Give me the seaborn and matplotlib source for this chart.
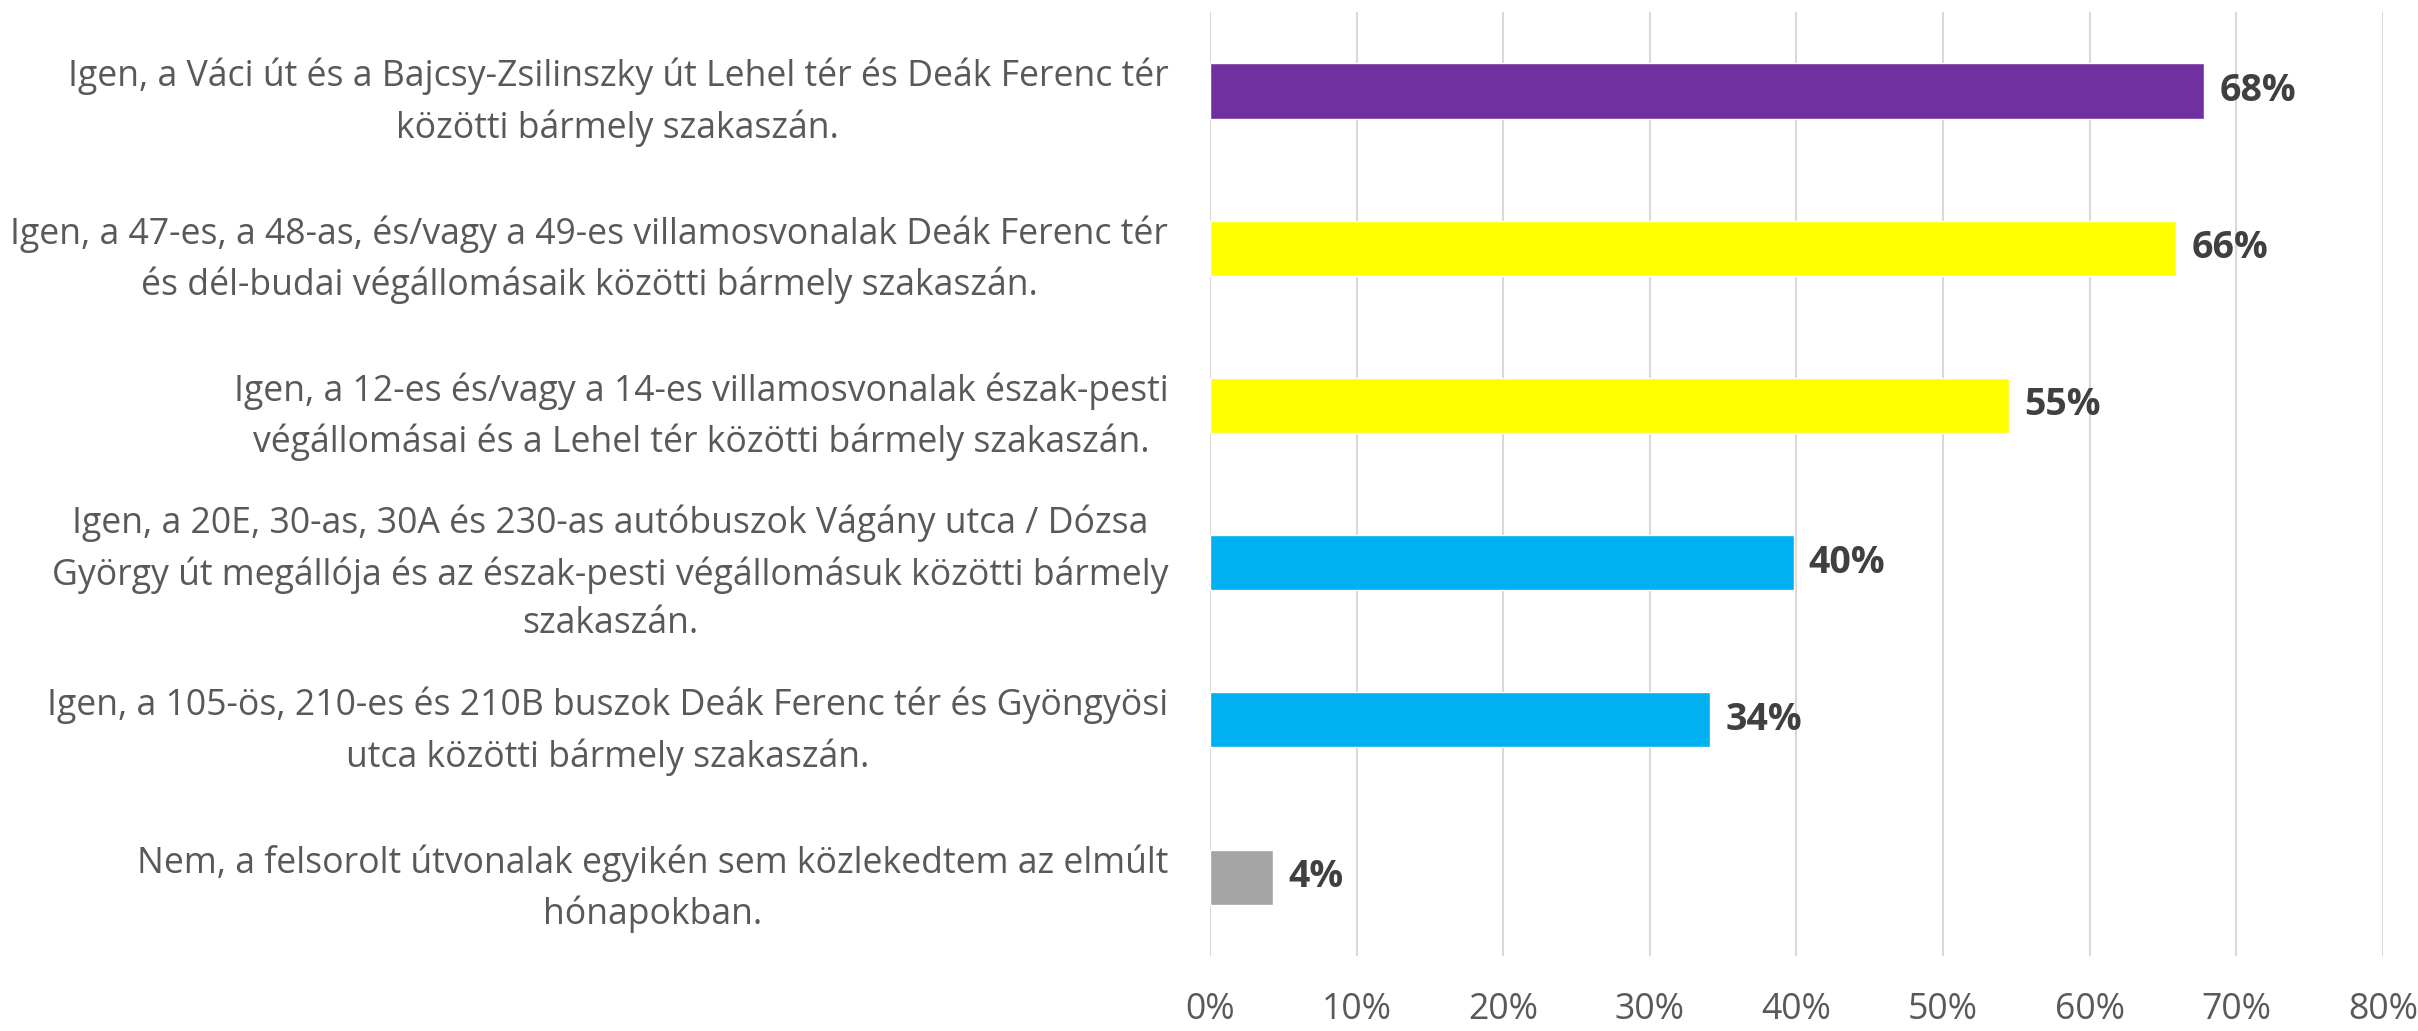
import matplotlib
matplotlib.use("Agg")
import matplotlib.pyplot as plt
import seaborn as sns
import pandas as pd

categories = [
    "Igen, a Váci út és a Bajcsy-Zsilinszky út Lehel tér és Deák Ferenc tér\nközötti bármely szakaszán.",
    "Igen, a 47-es, a 48-as, és/vagy a 49-es villamosvonalak Deák Ferenc tér\nés dél-budai végállomásaik közötti bármely szakaszán.",
    "Igen, a 12-es és/vagy a 14-es villamosvonalak észak-pesti\nvégállomásai és a Lehel tér közötti bármely szakaszán.",
    "Igen, a 20E, 30-as, 30A és 230-as autóbuszok Vágány utca / Dózsa\nGyörgy út megállója és az észak-pesti végállomásuk közötti bármely\nszakaszán.",
    "Igen, a 105-ös, 210-es és 210B buszok Deák Ferenc tér és Gyöngyösi\nutca közötti bármely szakaszán.",
    "Nem, a felsorolt útvonalak egyikén sem közlekedtem az elmúlt\nhónapokban.",
]
values = [67.8, 65.9, 54.5, 39.8, 34.1, 4.3]
value_labels = ["68%", "66%", "55%", "40%", "34%", "4%"]
colors = ["#7030A0", "#FFFF00", "#FFFF00", "#00B0F0", "#00B0F0", "#A5A5A5"]
x_ticks = [0, 10, 20, 30, 40, 50, 60, 70, 80]
x_tick_labels = ["0%", "10%", "20%", "30%", "40%", "50%", "60%", "70%", "80%"]

sns.set_theme(style="white")
plt.rcParams["font.family"] = ["Open Sans", "DejaVu Sans"]

df = pd.DataFrame({"cat": categories, "val": values})

fig = plt.figure(figsize=(24.18, 10.31), dpi=100)
ax = fig.add_axes([0.5004, 0.073, 0.4851, 0.915])

sns.barplot(data=df, x="val", y="cat", hue="cat", palette=colors,
            legend=False, width=0.35, orient="h", ax=ax, saturation=1)

ax.set_xlim(0, 80)
ax.set_ylim(5.5, -0.5)
ax.set_xticks(x_ticks)
ax.set_xticklabels(x_tick_labels)
ax.set_xlabel("")
ax.set_ylabel("")
ax.grid(axis="x", color="#D9D9D9", linewidth=1.5)
ax.set_axisbelow(True)
for s in ax.spines.values():
    s.set_visible(False)

ax.tick_params(axis="y", length=0, pad=30, labelsize=25.7, labelcolor="#595959")
ax.tick_params(axis="x", length=0, pad=26, labelsize=25.7, labelcolor="#595959")
for t in ax.get_yticklabels():
    t.set_multialignment("center")
    t.set_linespacing(1.48)

for i, (v, lab) in enumerate(zip(values, value_labels)):
    ax.annotate(lab, xy=(v, i), xytext=(11, 0), textcoords="offset points",
                ha="left", va="center", fontsize=27, fontweight="bold",
                color="#404040")

fig.savefig("out.png", dpi=100)
